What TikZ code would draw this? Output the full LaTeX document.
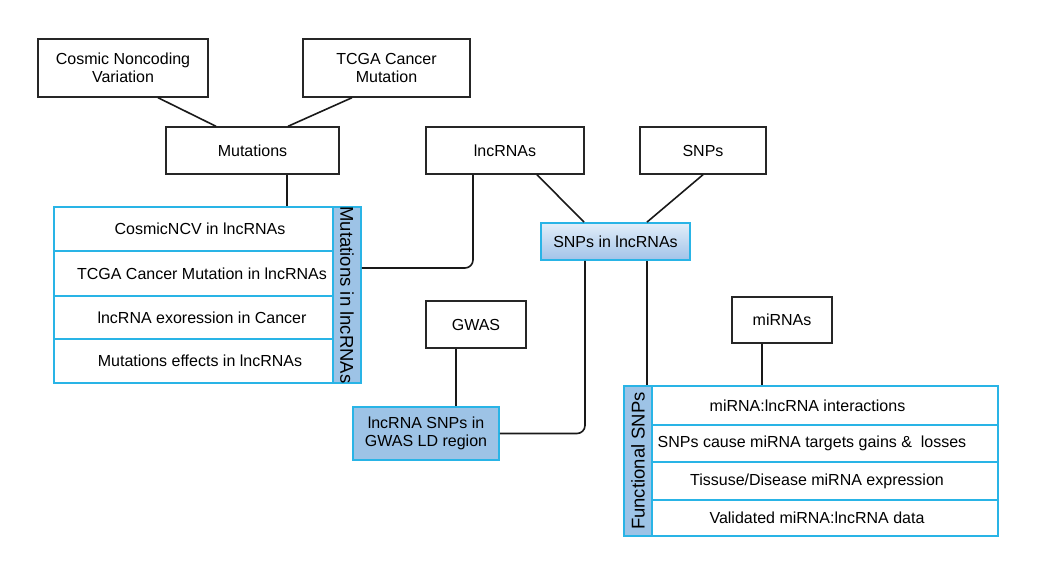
\documentclass[tikz,border=0pt]{standalone}
\usepackage{fontspec}
\setmainfont{Liberation Sans}
\usetikzlibrary{calc}
\definecolor{cyanb}{HTML}{29B4E6}
\definecolor{lblue}{HTML}{9DC3E6}
\definecolor{gtop}{HTML}{E2EEF9}
\definecolor{gbot}{HTML}{A2C3E9}
\tikzset{
  bbox/.style={draw=black!85, line width=1.4pt, inner sep=0pt, align=center, font=\fontsize{16}{18.5}\selectfont},
  cbox/.style={draw=cyanb, line width=1.8pt, inner sep=0pt, align=center, font=\fontsize{16}{18.5}\selectfont},
  rowbox/.style={draw=cyanb, line width=1.8pt, inner sep=0pt, align=center, fill=white, font=\fontsize{16}{18.5}\selectfont},
  lab/.style={draw=cyanb, line width=1.8pt, inner sep=0pt, fill=lblue},
  labtext/.style={font=\fontsize{18.5}{20}\selectfont},
  conn/.style={draw=black!90, line width=1.6pt},
}
\begin{document}
\begin{tikzpicture}[x=1pt,y=-1pt]
\useasboundingbox (0,0) rectangle (1043,579);
% top boxes
\node[bbox, minimum width=170pt, minimum height=58pt] (cnv) at (123,68) {Cosmic Noncoding\\Variation};
\node[bbox, minimum width=167pt, minimum height=58pt] (tcga) at (386.5,68) {TCGA Cancer\\Mutation};
\node[bbox, minimum width=173pt, minimum height=47pt] (mut) at (252.5,150.5) {Mutations};
\node[bbox, minimum width=158pt, minimum height=47pt] (lnc) at (505,150.5) {lncRNAs};
\node[bbox, minimum width=126pt, minimum height=47pt] (snp) at (703,150.5) {SNPs};
\node[cbox, top color=gtop, bottom color=gbot, minimum width=149pt, minimum height=37pt] (snplnc) at (615.5,241.5) {SNPs in lncRNAs};
\node[bbox, minimum width=100pt, minimum height=47pt] (gwas) at (476,324.5) {GWAS};
\node[cbox, fill=lblue, minimum width=146pt, minimum height=53pt] (gld) at (426,433.5) {lncRNA SNPs in\\GWAS LD region};
\node[bbox, minimum width=100pt, minimum height=46pt] (mir) at (782,320) {miRNAs};

% Mutations in lncRNAs table
\node[rowbox, minimum width=279pt, minimum height=44pt] (m1) at (193.5,229) {\hspace{13pt}CosmicNCV in lncRNAs};
\node[rowbox, minimum width=279pt, minimum height=44pt] (m2) at (193.5,273.5) {\hspace{17pt}TCGA Cancer Mutation in lncRNAs};
\node[rowbox, minimum width=279pt, minimum height=43pt] (m3) at (193.5,317.5) {\hspace{17pt}lncRNA exoression in Cancer};
\node[rowbox, minimum width=279pt, minimum height=44pt] (m4) at (193.5,361) {\hspace{13pt}Mutations effects in lncRNAs};
\node[lab, minimum width=28pt, minimum height=176pt] (mlab) at (347,295) {};
\node[labtext, rotate=-90] at (mlab.center) {Mutations in lncRNAs};

% Functional SNPs table
\node[rowbox, minimum width=346pt, minimum height=39pt] (f1) at (825,405.5) {miRNA:lncRNA interactions\hspace{35pt}};
\node[rowbox, minimum width=346pt, minimum height=37pt] (f2) at (825,443.5) {SNPs cause miRNA targets gains \&\ \ losses\hspace{26pt}};
\node[rowbox, minimum width=346pt, minimum height=38pt] (f3) at (825,481) {Tissuse/Disease miRNA expression\hspace{16pt}};
\node[rowbox, minimum width=346pt, minimum height=36pt] (f4) at (825,518) {Validated miRNA:lncRNA data\hspace{16pt}};
\node[lab, minimum width=28pt, minimum height=150pt] (flab) at (638,461) {};
\node[labtext, rotate=90] at (flab.center) {Functional SNPs};

% connectors
\draw[conn] ([xshift=35pt]cnv.south) -- ([xshift=-36.5pt]mut.north);
\draw[conn] ([xshift=-34.5pt]tcga.south) -- ([xshift=35.5pt]mut.north);
\draw[conn] ([xshift=34.5pt]mut.south) -- ([xshift=34.5pt]mut.south |- m1.north);
\draw[conn, rounded corners=8pt] ([xshift=-32pt]lnc.south) |- ([yshift=27pt]mlab.east);
\draw[conn] ([xshift=32pt]lnc.south) -- ([xshift=-31.5pt]snplnc.north);
\draw[conn] (snp.south) -- ([xshift=31.5pt]snplnc.north);
\draw[conn, rounded corners=8pt] ([xshift=-30.5pt]snplnc.south) |- (gld.east);
\draw[conn] ([xshift=31.5pt]snplnc.south) -- ([xshift=31.5pt]snplnc.south |- flab.north);
\draw[conn] ([xshift=-20pt]gwas.south) -- ([xshift=-20pt]gwas.south |- gld.north);
\draw[conn] ([xshift=-20pt]mir.south) -- ([xshift=-20pt]mir.south |- f1.north);
\end{tikzpicture}
\end{document}
